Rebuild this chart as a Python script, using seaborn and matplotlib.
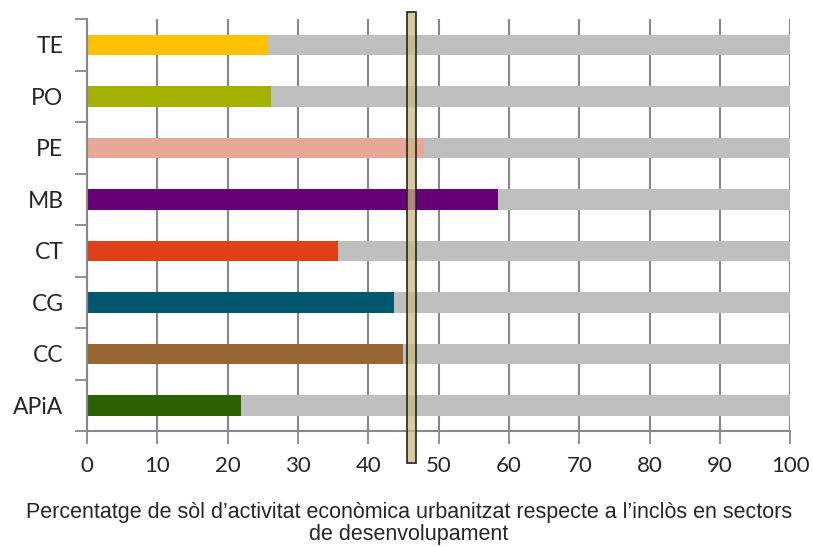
import matplotlib
matplotlib.use("Agg")
import matplotlib.pyplot as plt
import matplotlib.transforms as mtransforms
from matplotlib.patches import Rectangle
import seaborn as sns
import pandas as pd

# Share of developed economic-activity land per sector
sectors = ["TE", "PO", "PE", "MB", "CT", "CG", "CC", "APiA"]
values = [25.8, 26.1, 47.9, 58.4, 35.7, 43.7, 44.9, 21.9]
colors = ["#FFC000", "#A3B100", "#E8A898", "#660077", "#E04018",
          "#005870", "#996633", "#2A6200"]
total = [100] * len(sectors)
reference_value = 46.1
xticks = list(range(0, 101, 10))
xlabel = ("Percentatge de sòl d\u2019activitat econòmica urbanitzat respecte a l\u2019inclòs en sectors\n"
          "de desenvolupament")

df = pd.DataFrame({"sector": sectors, "value": values, "total": total})

sns.set_style("white")
plt.rcParams["font.family"] = ["Lato", "DejaVu Sans"]

fig = plt.figure(figsize=(8.13, 5.47), dpi=100)
ax = fig.add_axes([0.107, 0.212, 0.865, 0.753])

sns.barplot(data=df, y="sector", x="total", color="#BFBFBF", width=0.4,
            orient="h", ax=ax, order=sectors, saturation=1)
sns.barplot(data=df, y="sector", x="value", hue="sector", palette=colors,
            width=0.4, orient="h", ax=ax, order=sectors, hue_order=sectors,
            legend=False, saturation=1)
for p in ax.patches:
    p.set_linewidth(0)

ax.set_xlim(0, 100)
ax.set_ylim(len(sectors) - 0.5, -0.5)
ax.set_xticks(xticks)
ax.set_xticklabels([str(t) for t in xticks], fontsize=16)
ax.set_yticks(range(len(sectors)))
ax.set_yticklabels(sectors, fontsize=16.5)
ax.tick_params(axis="y", which="major", left=True, length=0, pad=17)
ax.tick_params(axis="x", bottom=True, length=9, width=1.3, color="#888888",
               pad=9, direction="out")
# y tick marks between categories
ax.set_yticks([i - 0.5 for i in range(len(sectors) + 1)], minor=True)
ax.tick_params(axis="y", which="minor", left=True, length=9, width=1.3,
               color="#888888", direction="out")

ax.grid(axis="x", color="#888888", linewidth=1.5)
ax.set_axisbelow(True)
for side in ["top", "right"]:
    ax.spines[side].set_visible(False)
for side in ["left", "bottom"]:
    ax.spines[side].set_color("#888888")
    ax.spines[side].set_linewidth(1.5)
ax.set_xlabel("")
ax.set_ylabel("")

# reference band spanning beyond the plotting area
trans = mtransforms.blended_transform_factory(ax.transData, fig.transFigure)
band_w = 1.28
ax.add_patch(Rectangle((reference_value - band_w / 2, 0.154), band_w,
                       0.978 - 0.154, transform=trans, facecolor="#CCB77E",
                       alpha=0.75, edgecolor="none", clip_on=False, zorder=5))
ax.add_patch(Rectangle((reference_value - band_w / 2, 0.154), band_w,
                       0.978 - 0.154, transform=trans, facecolor="none",
                       edgecolor="#222222", linewidth=1.2, clip_on=False,
                       zorder=6))

fig.text(0.503, 0.043, xlabel, ha="center", va="center", fontsize=15.5,
         family=["Liberation Sans", "DejaVu Sans"], linespacing=1.05)

fig.savefig("out.png", dpi=100)
